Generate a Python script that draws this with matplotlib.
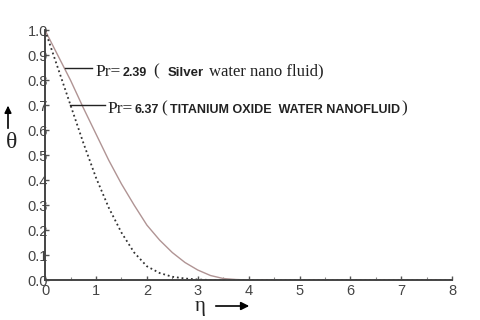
import matplotlib
matplotlib.use("Agg")
import matplotlib.pyplot as plt
import matplotlib.transforms as mtransforms
import numpy as np

# temperature profiles
eta = [0, 0.25, 0.5, 0.75, 1.0, 1.25, 1.5, 1.75, 2.0, 2.25, 2.5, 2.75,
       3.0, 3.25, 3.5, 3.75, 4.0, 5.0, 6.0, 7.0, 8.0]
theta_silver = [1.0, 0.90, 0.80, 0.69, 0.585, 0.48, 0.385, 0.30, 0.22, 0.16,
                0.11, 0.07, 0.04, 0.018, 0.006, 0.002, 0.0, 0.0, 0.0, 0.0, 0.0]
theta_tio2 = [1.0, 0.85, 0.70, 0.55, 0.41, 0.29, 0.19, 0.11, 0.055, 0.028,
              0.013, 0.006, 0.002, 0.0, 0.0, 0.0, 0.0, 0.0, 0.0, 0.0, 0.0]

x_ticks = [0, 1, 2, 3, 4, 5, 6, 7, 8]
y_ticks = [0.0, 0.1, 0.2, 0.3, 0.4, 0.5, 0.6, 0.7, 0.8, 0.9, 1.0]

SERIF = "Liberation Serif"
SANS = "Liberation Sans"


def text_row(ax, x, y, parts):
    # draw text pieces one after another on the same baseline
    r = ax.figure.canvas.get_renderer()
    px, py = ax.transData.transform((x, y))
    for s, gap, kw in parts:
        px += gap
        t = ax.text(px, py, s, transform=mtransforms.IdentityTransform(),
                    va="baseline", ha="left", color="#222222", **kw)
        px = t.get_window_extent(r).x1


fig = plt.figure(figsize=(4.8, 3.2), dpi=100)
ax = fig.add_axes([0.094, 0.125, 0.848, 0.78])

ax.plot(eta, theta_silver, color="#b09494", lw=1.0)
ax.plot(eta, theta_tio2, color="#333333", lw=1.3, ls=(0, (1, 1.6)))

ax.set_xlim(0, 8)
ax.set_ylim(0, 1.0)
ax.set_xticks(x_ticks)
ax.set_xticks(np.arange(0.5, 8, 1.0), minor=True)
ax.set_yticks(y_ticks)
ax.set_yticklabels([f"{v:.1f}" for v in y_ticks])

for s in ["top", "right"]:
    ax.spines[s].set_visible(False)
for s in ["left", "bottom"]:
    ax.spines[s].set_color("#444444")
    ax.spines[s].set_linewidth(1.4)

ax.tick_params(axis="both", which="major", direction="in", length=3,
               width=1, color="#555555", labelsize=10.5, labelcolor="#444444")
ax.tick_params(axis="x", which="minor", direction="in", length=2,
               width=0.8, color="#888888")
ax.tick_params(axis="y", pad=-2)
ax.tick_params(axis="x", pad=3)
for lab in ax.get_xticklabels() + ax.get_yticklabels():
    lab.set_family(SANS)

# pointer lines and labels
ax.plot([0.385, 0.917], [0.851, 0.851], color="#222222", lw=1.0,
        clip_on=False)
ax.plot([0.483, 1.17], [0.703, 0.703], color="#222222", lw=1.0,
        clip_on=False)

text_row(ax, 0.996, 0.819, [
    ("Pr=", 0, dict(family=SERIF, fontsize=12.5)),
    ("2.39", 2, dict(family=SANS, fontsize=9, fontweight="bold")),
    ("(", 6, dict(family=SERIF, fontsize=12.5)),
    ("Silver", 9, dict(family=SANS, fontsize=9.5, fontweight="bold")),
    ("water nano fluid)", 5, dict(family=SERIF, fontsize=12)),
])
text_row(ax, 1.23, 0.671, [
    ("Pr=", 0, dict(family=SERIF, fontsize=12.5)),
    ("6.37", 2, dict(family=SANS, fontsize=9, fontweight="bold")),
    ("(", 2, dict(family=SERIF, fontsize=12.5)),
    ("TITANIUM OXIDE  WATER NANOFLUID", 3,
     dict(family=SANS, fontsize=9, fontweight="bold")),
    (")", 1, dict(family=SERIF, fontsize=12.5)),
])

# axis names with arrows
fig.text(12 / 480, 1 - 143 / 320, "θ", family=SERIF, fontsize=17,
         ha="center", va="center", color="#222222")
fig.add_artist(plt.Line2D([8 / 480, 8 / 480], [1 - 128 / 320, 1 - 110 / 320],
                          color="black", lw=1.2))
ax.annotate("", xy=(8 / 480, 1 - 103 / 320), xycoords="figure fraction",
            xytext=(8 / 480, 1 - 112 / 320), textcoords="figure fraction",
            arrowprops=dict(arrowstyle="-|>", color="black", lw=1.2,
                            mutation_scale=10))
fig.text(200 / 480, 1 - 307 / 320, "η", family=SERIF, fontsize=15,
         ha="center", va="center", color="#222222")
ax.annotate("", xy=(252 / 480, 1 - 306 / 320), xycoords="figure fraction",
            xytext=(213 / 480, 1 - 306 / 320), textcoords="figure fraction",
            arrowprops=dict(arrowstyle="-|>", color="black", lw=1.2,
                            mutation_scale=12))

fig.savefig("out.png", dpi=100)
